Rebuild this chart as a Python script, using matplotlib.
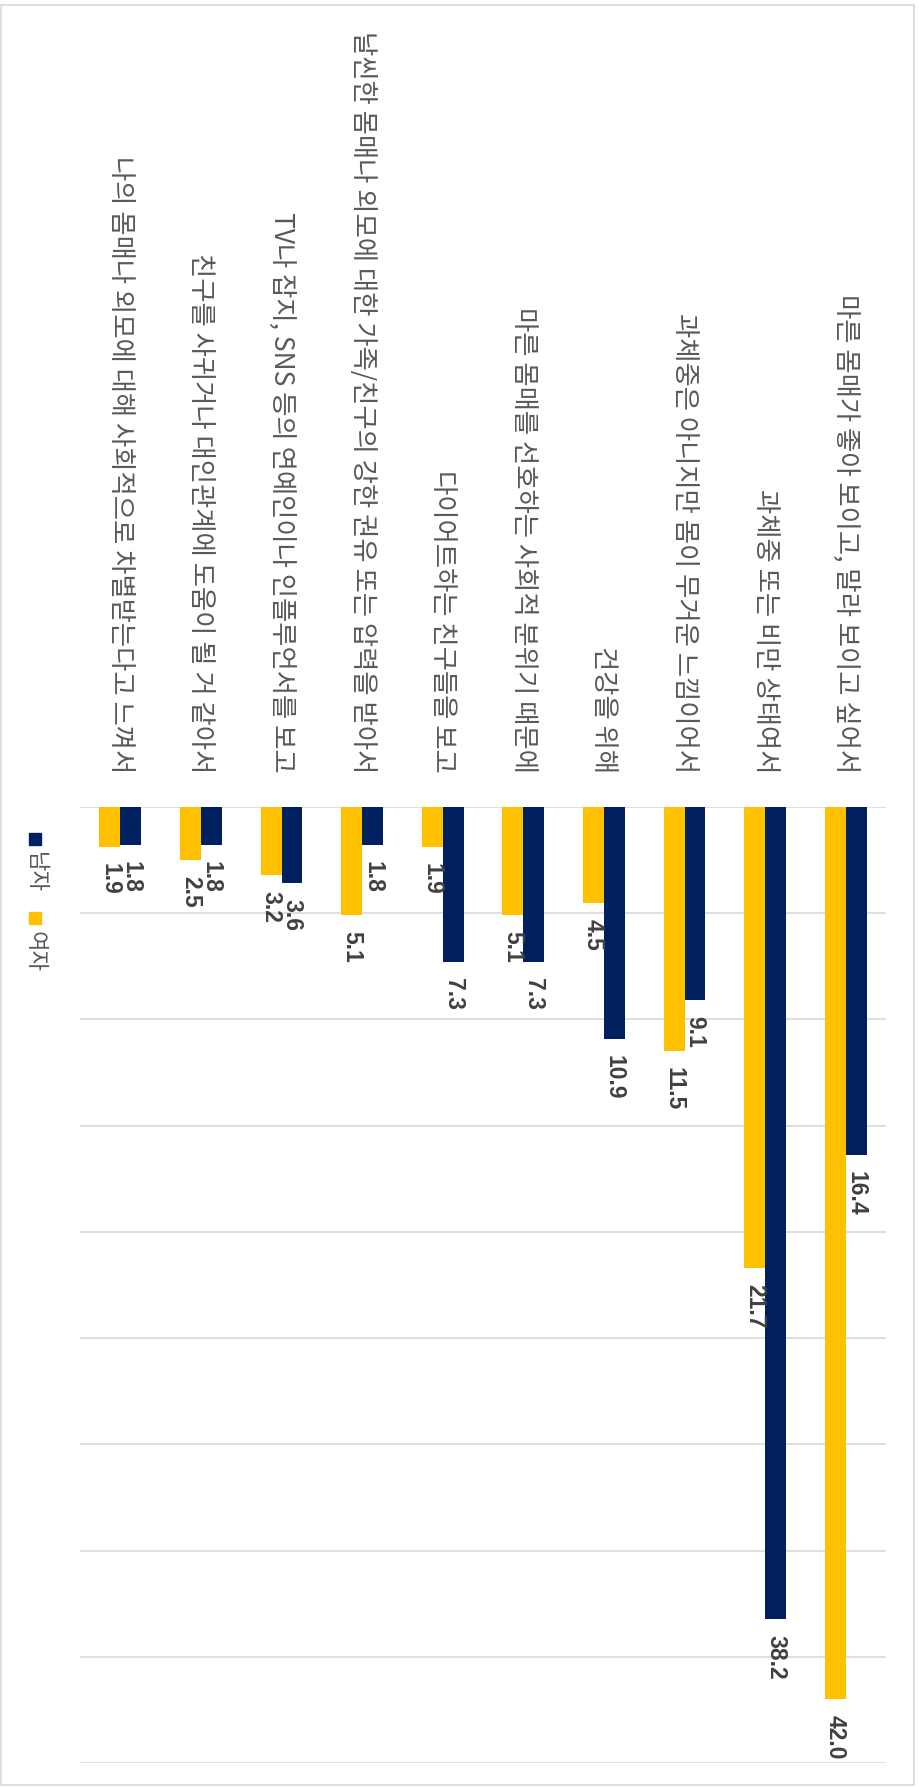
import matplotlib
matplotlib.use('Agg')
import matplotlib.pyplot as plt
import numpy as np
from matplotlib.patches import Rectangle

# categories as they sit left -> right in the (rotated) picture
categories = [
    '나의 몸매나 외모에 대해 사회적으로 차별받는다고 느껴서',
    '친구를 사귀거나 대인관계에 도움이 될 거 같아서',
    'TV나 잡지, SNS 등의 연예인이나 인플루언서를 보고',
    '날씬한 몸매나 외모에 대한 가족/친구의 강한 권유 또는 압력을 받아서',
    '다이어트하는 친구들을 보고',
    '마른 몸매를 선호하는 사회적 분위기 때문에',
    '건강을 위해',
    '과체중은 아니지만 몸이 무거운 느낌이어서',
    '과체중 또는 비만 상태여서',
    '마른 몸매가 좋아 보이고, 말라 보이고 싶어서',
]
series_names = ['남자', '여자']
male = [1.8, 1.8, 3.6, 1.8, 7.3, 7.3, 10.9, 9.1, 38.2, 16.4]
female = [1.9, 2.5, 3.2, 5.1, 1.9, 5.1, 4.5, 11.5, 21.7, 42.0]
y_ticks = [0, 5, 10, 15, 20, 25, 30, 35, 40, 45]

navy = '#002060'
gold = '#FFC000'
txt_gray = '#595959'

plt.rcParams['font.family'] = ['Noto Sans CJK KR', 'DejaVu Sans']

W, H = 919, 1788
fig = plt.figure(figsize=(W / 100, H / 100), dpi=100)

# light frame round the whole chart
fig.patches.append(Rectangle((1 / W, 3 / H), 913 / W, 1 - 8 / H, transform=fig.transFigure,
                             fill=False, edgecolor='#D9D9D9', lw=1.2))

ax = fig.add_axes([80 / W, 1 - 1763 / H, 806 / W, (1763 - 807) / H])
x = np.arange(len(categories))
bw = 0.26
ax.bar(x - bw / 2, female, bw, color=gold, zorder=3)
ax.bar(x + bw / 2, male, bw, color=navy, zorder=3)

ax.set_xlim(-0.5, len(categories) - 0.5)
ax.set_ylim(y_ticks[-1], y_ticks[0])
ax.set_yticks(y_ticks)
ax.yaxis.grid(True, color='#D9D9D9', lw=1.2)
ax.set_axisbelow(True)
for s in ax.spines.values():
    s.set_visible(False)

ax.set_xticks(x)
ax.set_xticklabels(categories, rotation=-90, color=txt_gray, fontsize=19)
ax.tick_params(left=False, labelleft=False, bottom=False, labelbottom=False,
               top=False, labeltop=True, pad=21)

# value labels below the bar ends
for xi, v in zip(x, female):
    ax.annotate(f'{v:.1f}', (xi - bw / 2, v), xytext=(0, -11.5), textcoords='offset points',
                rotation=-90, ha='center', va='top', fontsize=16.5, fontweight='bold',
                color='#404040', family=['Liberation Sans', 'DejaVu Sans'])
for xi, v in zip(x, male):
    ax.annotate(f'{v:.1f}', (xi + bw / 2, v), xytext=(0, -11.5), textcoords='offset points',
                rotation=-90, ha='center', va='top', fontsize=16.5, fontweight='bold',
                color='#404040', family=['Liberation Sans', 'DejaVu Sans'])

# legend, rotated like the rest
leg = [(series_names[0], navy, 833), (series_names[1], gold, 912)]
for name, col, ytop in leg:
    fig.patches.append(Rectangle((29 / W, 1 - (ytop + 12) / H), 12 / W, 12 / H,
                                 transform=fig.transFigure, color=col))
    fig.text(35 / W, 1 - (ytop + 19) / H, name, rotation=-90, ha='center', va='top',
             fontsize=16, color=txt_gray)

fig.savefig('out.png', dpi=100)
